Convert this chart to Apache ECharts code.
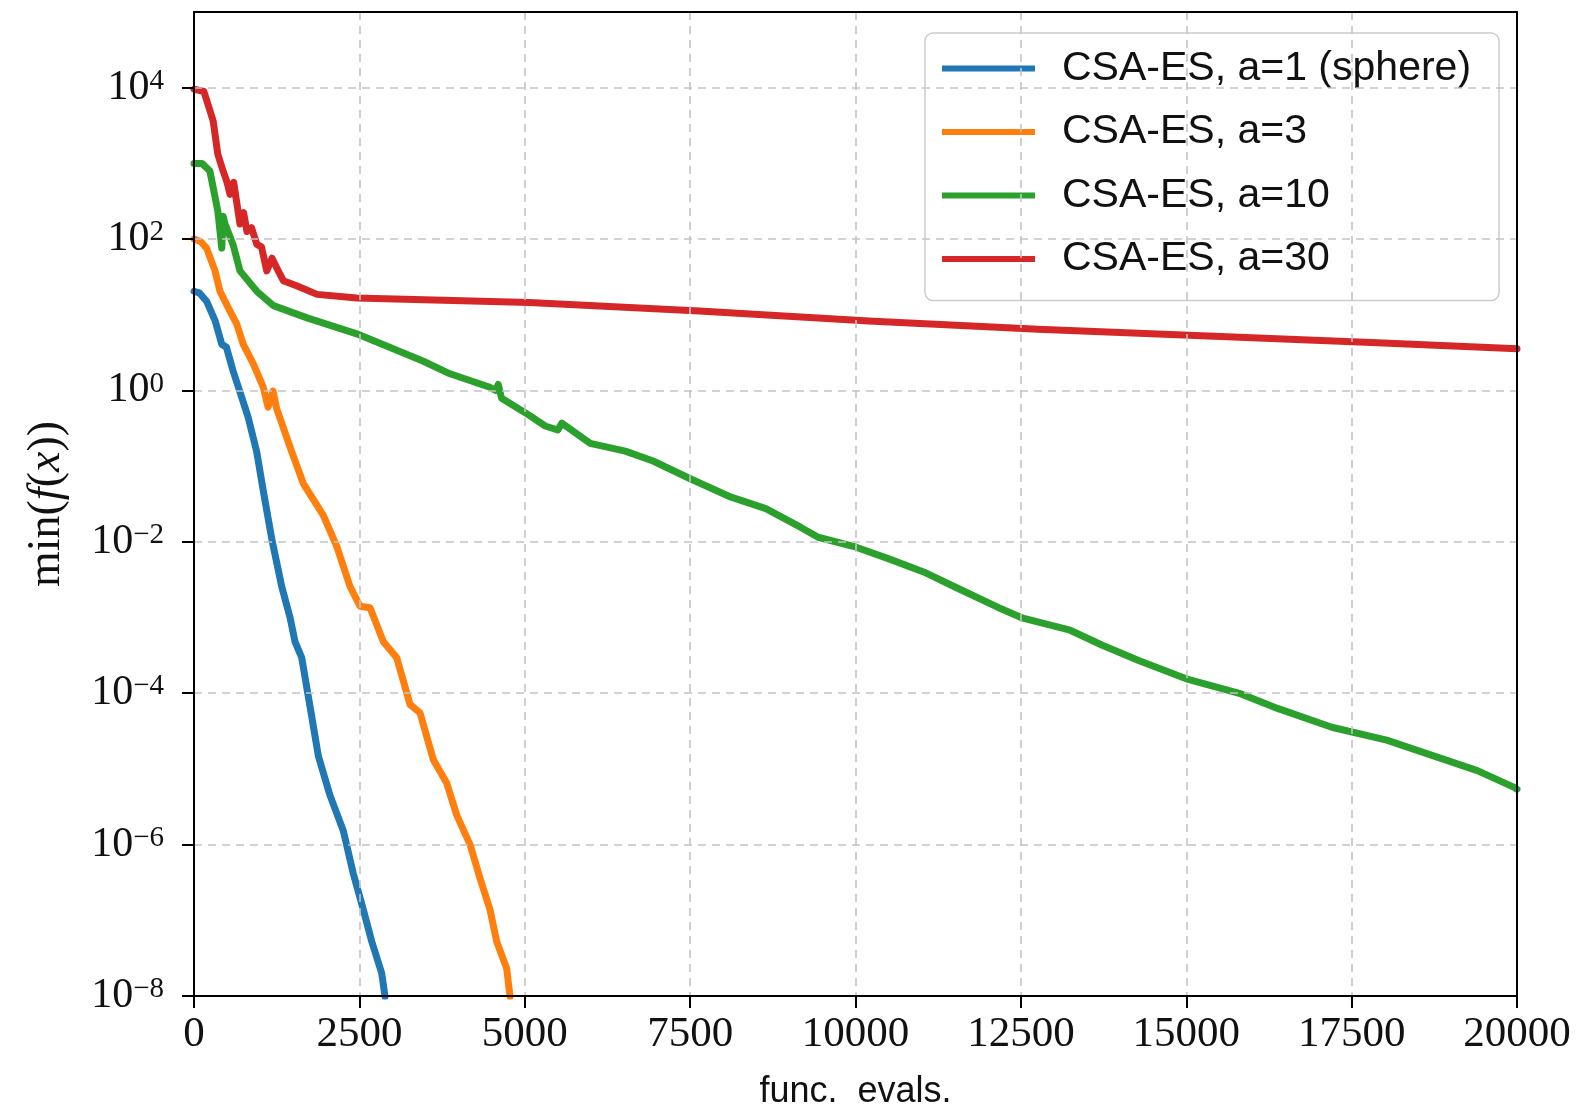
<!DOCTYPE html>
<html>
<head>
<meta charset="utf-8">
<script src="https://cdn.jsdelivr.net/npm/echarts@6/dist/echarts.min.js"></script>
<style>
html,body{margin:0;padding:0;background:#fff;}
#chart{width:1576px;height:1112px;}
</style>
</head>
<body>
<div id="chart"></div>
<script>
// ---- data ----
const seriesNames = ['CSA-ES, a=1 (sphere)', 'CSA-ES, a=3', 'CSA-ES, a=10', 'CSA-ES, a=30'];
const seriesColors = ['#1f77b4', '#ff7f0e', '#2ca02c', '#d62728'];

const blueEvals = [0, 80, 190, 320, 420, 490, 590, 740, 820, 948, 1048, 1175, 1326, 1452, 1527, 1628, 1780, 1880, 2056, 2258, 2410, 2560, 2687, 2838, 2888];
const blueF = [20.4, 19.5, 15.1, 8.3, 4.07, 3.72, 1.82, 0.724, 0.437, 0.155, 0.0468, 0.011, 2.57e-3, 1.0e-3, 4.8e-4, 2.95e-4, 4.9e-5, 1.48e-5, 4.47e-6, 1.51e-6, 4.07e-7, 1.38e-7, 5.25e-8, 2.0e-8, 9.8e-9];

const orangeEvals = [0, 100, 190, 318, 393, 544, 645, 745, 897, 1048, 1120, 1195, 1250, 1452, 1653, 1955, 2158, 2359, 2510, 2661, 2863, 3065, 3266, 3417, 3618, 3820, 3972, 4173, 4324, 4475, 4576, 4727, 4778];
const orangeF = [100, 93, 76, 38, 20.4, 11.2, 7.6, 4.07, 2.24, 1.10, 0.60, 0.98, 0.575, 0.178, 0.0589, 0.0224, 8.7e-3, 2.57e-3, 1.41e-3, 1.35e-3, 4.8e-4, 2.95e-4, 7.1e-5, 5.5e-5, 1.32e-5, 6.5e-6, 2.45e-6, 1.0e-6, 3.6e-7, 1.38e-7, 5.25e-8, 2.3e-8, 9.8e-9];

const greenEvals = [0, 120, 240, 360, 420, 440, 470, 590, 695, 950, 1200, 1710, 2460, 3460, 3870, 4450, 4560, 4600, 4650, 5000, 5310, 5500, 5560, 5990, 6520, 6940, 7510, 8120, 8645, 9175, 9435, 10010, 10495, 11030, 11560, 12140, 12530, 13245, 13740, 14290, 15000, 15830, 16380, 17200, 18030, 18850, 19400, 19950, 20000];
const greenF = [1000, 1000, 794, 234, 76, 200, 158, 85, 38, 20.4, 13.2, 9.1, 5.6, 2.45, 1.66, 1.12, 1.0, 1.2, 0.79, 0.513, 0.339, 0.30, 0.37, 0.2, 0.158, 0.117, 0.0676, 0.0389, 0.0275, 0.0155, 0.0115, 8.5e-3, 6.0e-3, 4.0e-3, 2.4e-3, 1.38e-3, 9.8e-4, 6.8e-4, 4.27e-4, 2.69e-4, 1.55e-4, 9.8e-5, 6.3e-5, 3.55e-5, 2.4e-5, 1.38e-5, 9.5e-6, 5.75e-6, 5.4e-6];

const redEvals = [0, 150, 290, 360, 440, 500, 545, 600, 695, 750, 800, 870, 950, 1020, 1100, 1180, 1250, 1350, 1560, 1860, 2460, 5070, 7640, 10200, 12760, 15330, 17890, 20000];
const redF = [9550, 8900, 3630, 1320, 794, 562, 389, 562, 158, 224, 126, 141, 85, 79, 38, 56, 41.7, 28.2, 24, 18.6, 16.6, 14.5, 11.2, 8.3, 6.46, 5.25, 4.27, 3.55];

const xTicks = [0, 2500, 5000, 7500, 10000, 12500, 15000, 17500, 20000];
const yTickValues = [1e-8, 1e-6, 1e-4, 1e-2, 1e0, 1e2, 1e4];
const yTickExponents = ['−8', '−6', '−4', '−2', '0', '2', '4'];

// ---- chart ----
const evalsList = [blueEvals, orangeEvals, greenEvals, redEvals];
const fList = [blueF, orangeF, greenF, redF];

const series = seriesNames.map((name, i) => ({
  name: name,
  type: 'line',
  xAxisIndex: 0,
  yAxisIndex: 0,
  data: evalsList[i].map((x, j) => [x, fList[i][j]]),
  showSymbol: false,
  symbol: 'none',
  lineStyle: { color: seriesColors[i], width: 7, join: 'round', cap: 'round' },
  itemStyle: { color: seriesColors[i] },
  clip: true,
  animation: false,
  z: 3 + i
}));

const serif = '"Liberation Serif", "DejaVu Serif", serif';
const sans = '"Liberation Sans", "DejaVu Sans", sans-serif';

const frameAxis = {
  axisLine: { show: true, onZero: false, lineStyle: { color: '#000', width: 2 } },
  axisTick: { show: false },
  axisLabel: { show: false },
  splitLine: { show: false },
  z: 20
};

const chart = echarts.init(document.getElementById('chart'), null, { renderer: 'canvas' });
chart.setOption({
  backgroundColor: '#ffffff',
  animation: false,
  grid: {
    left: 194, right: 59, top: 12, bottom: 116,
    show: false,
    containLabel: false,
    outerBoundsMode: 'none'
  },
  legend: {
    data: seriesNames,
    left: 925, top: 33,
    orient: 'vertical',
    icon: 'rect',
    itemWidth: 93, itemHeight: 6,
    itemGap: 20.5,
    padding: [14, 28, 20, 17],
    backgroundColor: 'rgba(255,255,255,0.85)',
    borderColor: '#cccccc', borderWidth: 1.5, borderRadius: 8,
    textStyle: { fontFamily: sans, fontSize: 41, color: '#111', lineHeight: 43, padding: [0, 0, 0, 22] }
  },
  xAxis: [{
    type: 'value',
    min: xTicks[0], max: xTicks[xTicks.length - 1], interval: 2500,
    name: 'func.  evals.',
    nameLocation: 'middle',
    nameGap: 78,
    nameMoveOverlap: false,
    nameTextStyle: { fontFamily: sans, fontSize: 36, color: '#111', verticalAlign: 'top' },
    axisLine: { show: true, onZero: false, lineStyle: { color: '#000', width: 2 } },
    axisTick: { show: true, inside: false, length: 12, lineStyle: { color: '#000', width: 2 } },
    axisLabel: { show: true, margin: 17, fontFamily: serif, fontSize: 43, color: '#111',
      formatter: v => String(v) },
    splitLine: { show: true, lineStyle: { color: '#c4c4c4', width: 1.6, type: [8, 6] } },
    z: 10
  }, Object.assign({
    type: 'value', position: 'top', min: 0, max: 1
  }, frameAxis)],
  yAxis: [{
    type: 'log',
    logBase: 10,
    min: 1e-8, max: 1e5,
    interval: 2,
    name: '{r|min(}{i|f}{r|(}{i|x}{r|))}',
    nameLocation: 'middle',
    nameRotate: 90,
    nameGap: 124,
    nameMoveOverlap: false,
    nameTextStyle: {
      rich: {
        r: { fontFamily: serif, fontSize: 46, color: '#111' },
        i: { fontFamily: serif, fontSize: 46, fontStyle: 'italic', color: '#111' }
      }
    },
    axisLine: { show: true, lineStyle: { color: '#000', width: 2 } },
    axisTick: { show: true, inside: false, length: 12, lineStyle: { color: '#000', width: 2 },
      customValues: yTickValues },
    axisLabel: {
      show: true, margin: 30,
      customValues: yTickValues,
      formatter: function (v) {
        const e = Math.round(Math.log10(v));
        const idx = yTickValues.findIndex(t => Math.abs(Math.log10(t) - e) < 1e-6);
        if (idx < 0) return '';
        return '{b|10}{s|' + yTickExponents[idx] + '}';
      },
      rich: {
        b: { fontFamily: serif, fontSize: 42, color: '#111', lineHeight: 42 },
        s: { fontFamily: serif, fontSize: 29, color: '#111', verticalAlign: 'top', lineHeight: 29 }
      }
    },
    splitLine: { show: true, lineStyle: { color: '#c4c4c4', width: 1.6, type: [8, 6] } },
    minorTick: { show: false },
    minorSplitLine: { show: false },
    z: 10
  }, Object.assign({
    type: 'value', position: 'right', min: 0, max: 1
  }, frameAxis)],
  series: series
});
</script>
</body>
</html>
